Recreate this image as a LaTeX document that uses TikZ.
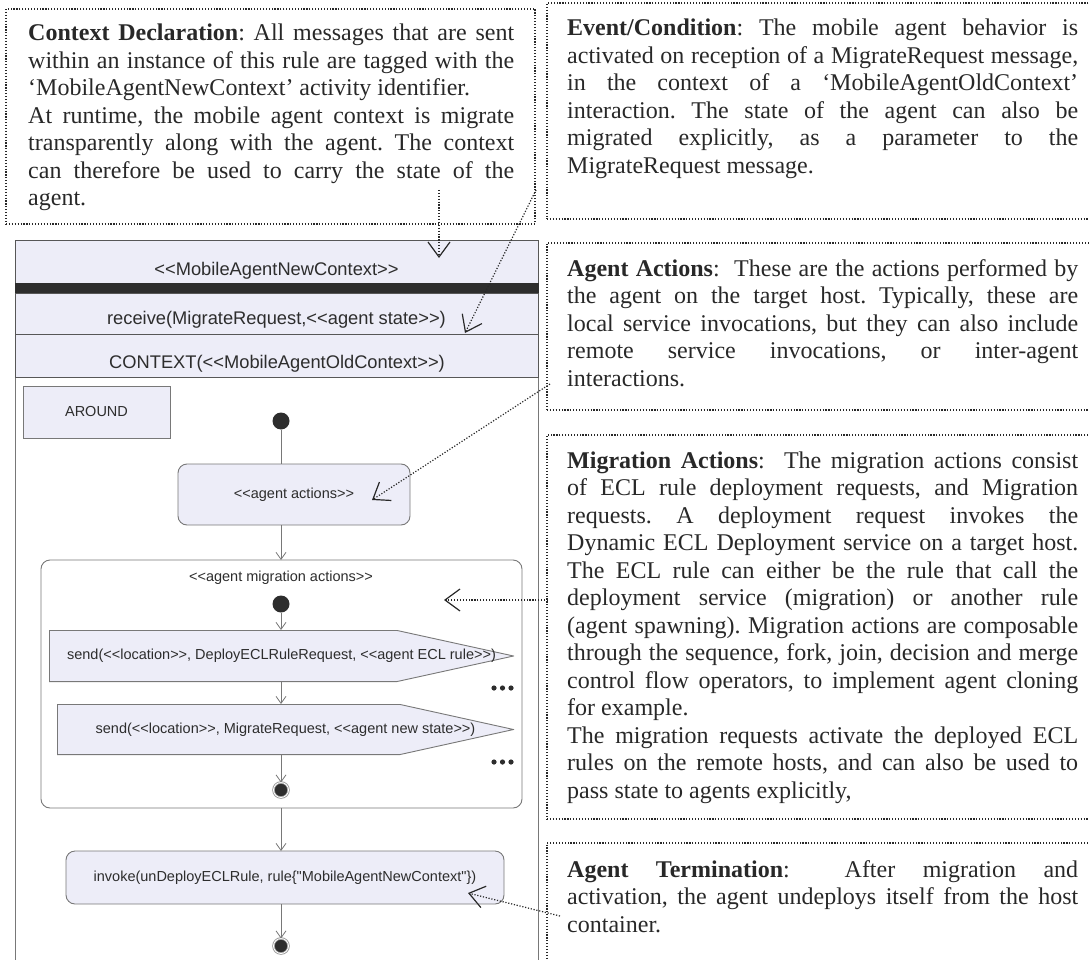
\documentclass[tikz,border=0pt]{standalone}
\usepackage{fontspec}
\setmainfont{Liberation Serif}
\newfontfamily\umlfont{Liberation Sans}
\usetikzlibrary{arrows.meta}

\definecolor{umlfill}{RGB}{237,237,248}
\definecolor{umlline}{RGB}{120,120,120}
\definecolor{umldark}{RGB}{45,45,45}
\definecolor{notetint}{RGB}{40,40,40}

\newcommand\notefont{\fontsize{24}{27.5}\selectfont\frenchspacing}
\newcommand\umlbig{\umlfont\fontsize{18.3}{22}\selectfont}
\newcommand\umlsmall{\umlfont\fontsize{14.5}{17}\selectfont}

\setlength{\parindent}{0pt}
\tolerance=10000 \hbadness=10000 \hfuzz=30pt
\hyphenpenalty=10000 \exhyphenpenalty=10000

\tikzset{
	notedots/.style={draw=notetint, line width=1.2pt, dash pattern=on 1.2pt off 1.7pt},
	notebox/.style={notedots, anchor=north west, inner sep=0pt, outer sep=0pt},
	notetext/.style={anchor=base west, inner sep=0pt, text width=#1, align=justify, text=notetint, font=\notefont},
	notearrow/.style={notedots, -{Straight Barb[length=15pt,width=22pt,line width=1.2pt]}},
	ruleframe/.style={draw=umlline, line width=0.9pt, anchor=north west, inner sep=0pt, outer sep=0pt},
	rowbox/.style={ruleframe, draw=umldark!80, fill=umlfill, minimum width=523},
	rowtext/.style={font=\umlbig, text=umldark, inner sep=0pt, anchor=base},
	umlbox/.style={draw=umlline, fill=umlfill, line width=0.9pt, inner sep=0pt, outer sep=0pt, text=umldark, font=\umlsmall},
	actbox/.style={umlbox, rounded corners=9pt},
	migbox/.style={draw=umlline, line width=0.9pt, rounded corners=9pt, inner sep=0pt, outer sep=0pt},
	sendbox/.style={fill=white, inner sep=0pt, outer sep=0pt, text=umldark, font=\umlsmall,
		path picture={
			\draw[fill=umlfill, draw=umlline, line width=0.9pt]
				([shift={(0.45,0.45)}]path picture bounding box.north west)
				-- ([shift={(-#1,0.45)}]path picture bounding box.north east)
				-- ([shift={(-0.45,0)}]path picture bounding box.east)
				-- ([shift={(-#1,-0.45)}]path picture bounding box.south east)
				-- ([shift={(0.45,-0.45)}]path picture bounding box.south west)
				-- cycle;
		}},
	initdot/.style={circle, fill=umldark, minimum size=17, inner sep=0pt, outer sep=0pt},
	finaldot/.style={circle, fill=umldark, draw=umlline!80, double=white, double distance=0.9pt, line width=0.8pt, minimum size=15, inner sep=0pt, outer sep=0pt},
	flowarrow/.style={draw=umlline, line width=0.8pt, -{Straight Barb[length=7pt,width=10pt]}}
}

\begin{document}
\begin{tikzpicture}[x=1pt, y=-1pt]
	\useasboundingbox (0,0) rectangle (1089,960);
	\clip (0,0) rectangle (1089,960);

	\node[notebox, minimum width=529, minimum height=215] (ctxnote) at (6,9) {};
	\node[notebox, minimum width=560, minimum height=216] (evnote) at (547,3) {};
	\node[notebox, minimum width=560, minimum height=167] (actnote) at (547,243) {};
	\node[notebox, minimum width=560, minimum height=384] (mignote) at (547,435) {};
	\node[notebox, minimum width=560, minimum height=140] (termnote) at (547,843) {};

	\node[notetext=486] (ctxtext) at (28,41) {%
		\textbf{Context Declaration}: All messages that are sent\linebreak
		within an instance of this rule are tagged with the\linebreak
		‘MobileAgentNewContext’ activity identifier.\\
		At runtime, the mobile agent context is migrate\linebreak
		transparently along with the agent. The context\linebreak
		can therefore be used to carry the state of the\linebreak
		agent.};
	\node[notetext=511] (evtext) at (567,36) {%
		\textbf{Event/Condition}: The mobile agent behavior is\linebreak
		activated on reception of a MigrateRequest message,\linebreak
		in the context of a ‘MobileAgentOldContext’\linebreak
		interaction. The state of the agent can also be\linebreak
		migrated explicitly, as a parameter to the\linebreak
		MigrateRequest message.};
	\node[notetext=511] (acttext) at (567,276) {%
		\textbf{Agent Actions}:\ \ These are the actions performed by\linebreak
		the agent on the target host. Typically, these are\linebreak
		local service invocations, but they can also include\linebreak
		remote service invocations, or inter-agent\linebreak
		interactions.};
	\node[notetext=511] (migtext) at (567,468) {%
		\textbf{Migration Actions}:\ \ The migration actions consist\linebreak
		of ECL rule deployment requests, and Migration\linebreak
		requests. A deployment request invokes the\linebreak
		Dynamic ECL Deployment service on a target host.\linebreak
		The ECL rule can either be the rule that call the\linebreak
		deployment service (migration) or another rule\linebreak
		(agent spawning). Migration actions are composable\linebreak
		through the sequence, fork, join, decision and merge\linebreak
		control flow operators, to implement agent cloning\linebreak
		for example.\\
		The migration requests activate the deployed ECL\linebreak
		rules on the remote hosts, and can also be used to\linebreak
		pass state to agents explicitly,};
	\node[notetext=511] (termtext) at (567,877) {%
		\textbf{Agent Termination}:\ \ After migration and\linebreak
		activation, the agent undeploys itself from the host\linebreak
		container.};

	\node[ruleframe, minimum width=523, minimum height=740] (rule) at (15,240) {};
	\node[rowbox, minimum height=43] (hdr) at (rule.north west) {};
	\node[rowbox, fill=umldark, draw=umldark, minimum height=10] (bar) at (hdr.south west) {};
	\node[rowbox, minimum height=41] (recv) at (bar.south west) {};
	\node[rowbox, minimum height=43] (ctx) at (recv.south west) {};
	\node[rowtext] (hdrt) at (276.5,275) {<<MobileAgentNewContext>>};
	\node[rowtext] (recvt) at (276.5,324) {receive(MigrateRequest,<<agent state>>)};
	\node[rowtext] (ctxt) at (277,368) {CONTEXT(<<MobileAgentOldContext>>)};

	\node[umlbox, minimum width=147, minimum height=52] (around) at (96.5,412) {AROUND};
	\node[initdot] (start) at (281,421) {};
	\node[actbox, minimum width=232, minimum height=61] (acts) at (294,494.5) {<<agent actions>>};
	\node[migbox, minimum width=481, minimum height=248] (mig) at (281.5,684) {};
	\node[font=\umlsmall, text=umldark, inner sep=0pt] (migt) at (281,578) {<<agent migration actions>>};
	\node[initdot] (mstart) at (281,604) {};
	\node[sendbox=117, minimum width=465, minimum height=52] (send1) at (281.5,656)
		{send(<<location>>, DeployECLRuleRequest, <<agent ECL rule>>)};
	\node[sendbox=114, minimum width=457, minimum height=51] (send2) at (285.5,729.5)
		{send(<<location>>, MigrateRequest, <<agent new state>>)};
	\node[finaldot] (mend) at (281,790) {};
	\node[actbox, minimum width=438, minimum height=53] (inv) at (285,877.5)
		{invoke(unDeployECLRule, rule\{"MobileAgentNewContext"\})};
	\node[finaldot] (rend) at (281,946) {};

	\foreach \dy in {688,762}
		\foreach \dx in {494,502.5,511}
			\fill[umldark] (\dx,\dy) circle (2.6pt);

	\draw[flowarrow, -] (start) -- (start |- acts.north);
	\draw[flowarrow] (start |- acts.south) -- (start |- mig.north);
	\draw[flowarrow] (mstart) -- (mstart |- send1.north);
	\draw[flowarrow] (mstart |- send1.south) -- (mstart |- send2.north);
	\draw[flowarrow] (mstart |- send2.south) -- (mend);
	\draw[flowarrow] (start |- mig.south) -- (start |- inv.north);
	\draw[flowarrow] (start |- inv.south) -- (rend);

	\coordinate (ctxfoot) at (439,190);
	\coordinate (evfoot) at (536,190);
	\coordinate (actfoot) at (550,384);
	\coordinate (migfoot) at (548,600);
	\coordinate (termfoot) at (560,916);
	\coordinate (hdrpin) at (439,258);
	\coordinate (recvpin) at (465,333);
	\coordinate (actspin) at (372,500);
	\coordinate (migpin) at (444,600);
	\coordinate (invpin) at (468,893);

	\draw[notearrow] (ctxfoot) -- (hdrpin);
	\draw[notearrow] (evfoot) -- (recvpin);
	\draw[notearrow] (actfoot) -- (actspin);
	\draw[notearrow] (migfoot) -- (migpin);
	\draw[notearrow] (termfoot) -- (invpin);
\end{tikzpicture}
\end{document}
